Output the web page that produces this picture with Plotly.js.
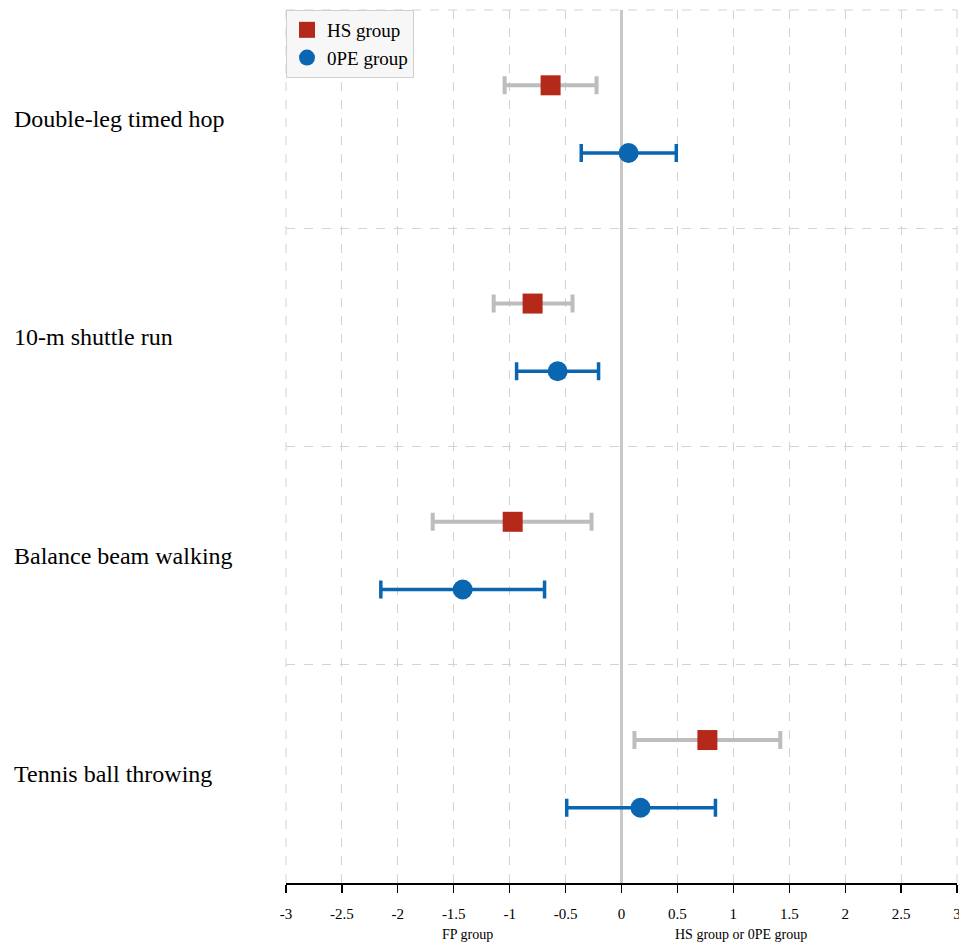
<!DOCTYPE html>
<html>
<head>
<meta charset="utf-8">
<script src="https://cdn.plot.ly/plotly-3.0.1.min.js"></script>
<style>html,body{margin:0;padding:0;background:#fff;}</style>
</head>
<body>
<div id="chart" style="width:959px;height:943px;"></div>
<script>
const categories = ["Double-leg timed hop", "10-m shuttle run", "Balance beam walking", "Tennis ball throwing"];
const hsMean  = [-0.634, -0.795, -0.973, 0.768];
const hsLow   = [-1.045, -1.143, -1.688, 0.116];
const hsHigh  = [-0.223, -0.438, -0.268, 1.420];
const opeMean = [0.063, -0.571, -1.420, 0.170];
const opeLow  = [-0.360, -0.938, -2.152, -0.490];
const opeHigh = [0.490, -0.205, -0.688, 0.840];
const xTicks = [-3, -2.5, -2, -1.5, -1, -0.5, 0, 0.5, 1, 1.5, 2, 2.5, 3];
const seriesNames = ["HS group", "0PE group"];
const sideLabels = ["FP group", "HS group or 0PE group"];

const n = categories.length;
const center = categories.map((c, i) => n - 0.5 - i);
const off = 0.155;
const font = '"Liberation Serif", "Times New Roman", serif';

const hs = {
  type: 'scatter', mode: 'markers', name: seriesNames[0],
  x: hsMean, y: center.map(c => c + off),
  marker: {symbol: 'square', size: 20, color: '#b5291a'},
  error_x: {type: 'data', symmetric: false,
    array: hsHigh.map((h, i) => h - hsMean[i]),
    arrayminus: hsLow.map((l, i) => hsMean[i] - l),
    color: '#bdbdbd', thickness: 4, width: 9},
  cliponaxis: false
};
const ope = {
  type: 'scatter', mode: 'markers', name: seriesNames[1],
  x: opeMean, y: center.map(c => c - off),
  marker: {symbol: 'circle', size: 20, color: '#0a66b0'},
  error_x: {type: 'data', symmetric: false,
    array: opeHigh.map((h, i) => h - opeMean[i]),
    arrayminus: opeLow.map((l, i) => opeMean[i] - l),
    color: '#0a66b0', thickness: 3.5, width: 9},
  cliponaxis: false
};

const annotations = categories.map((c, i) => ({
  text: c, xref: 'paper', yref: 'y', x: -0.408, y: center[i],
  xanchor: 'left', yanchor: 'middle', showarrow: false,
  font: {family: font, size: 24, color: '#000'}
}));
annotations.push({text: sideLabels[0], xref: 'x', yref: 'paper', x: -1.38, y: -0.048,
  xanchor: 'center', yanchor: 'top', showarrow: false, font: {family: font, size: 14, color: '#000'}});
annotations.push({text: sideLabels[1], xref: 'x', yref: 'paper', x: 1.07, y: -0.048,
  xanchor: 'center', yanchor: 'top', showarrow: false, font: {family: font, size: 14, color: '#000'}});

const dashLine = {color: '#d3d3d3', width: 1, dash: 'dash'};
const shapes = [
  {type: 'line', xref: 'paper', yref: 'paper', x0: 0, x1: 1, y0: 1, y1: 1, line: dashLine, layer: 'below'},
  {type: 'line', xref: 'paper', yref: 'paper', x0: 0, x1: 0, y0: 0, y1: 1, line: dashLine, layer: 'below'},
  {type: 'line', xref: 'paper', yref: 'paper', x0: 1, x1: 1, y0: 0, y1: 1, line: dashLine, layer: 'below'}
];

const layout = {
  width: 959, height: 943,
  margin: {l: 286, r: 2, t: 10, b: 60},
  paper_bgcolor: '#fff', plot_bgcolor: '#fff',
  font: {family: font, color: '#000'},
  showlegend: true,
  legend: {x: 0, y: 1, xanchor: 'left', yanchor: 'top',
    bgcolor: '#f7f7f7', bordercolor: '#d0d0d0', borderwidth: 1,
    font: {family: font, size: 19, color: '#000'}, tracegroupgap: 0},
  xaxis: {
    range: [-3, 3], tickvals: xTicks, ticktext: xTicks.map(String),
    showgrid: true, gridcolor: '#d3d3d3', griddash: 'dash', gridwidth: 1,
    zeroline: true, zerolinecolor: '#c8c8c8', zerolinewidth: 2.5,
    showline: true, linecolor: '#000', linewidth: 1.5,
    ticks: 'outside', ticklen: 8, tickcolor: '#000', tickwidth: 1.2,
    ticklabelstandoff: 8, ticklabeloverflow: 'allow',
    tickfont: {family: font, size: 15, color: '#000'},
    fixedrange: true
  },
  yaxis: {
    range: [0, n], tickvals: [0, 1, 2, 3, 4], showticklabels: false,
    showgrid: true, gridcolor: '#d3d3d3', griddash: 'dash', gridwidth: 1,
    zeroline: false, showline: false, ticks: '', fixedrange: true
  },
  shapes: shapes,
  annotations: annotations
};

Plotly.newPlot('chart', [hs, ope], layout, {displayModeBar: false, staticPlot: true});
</script>
</body>
</html>
